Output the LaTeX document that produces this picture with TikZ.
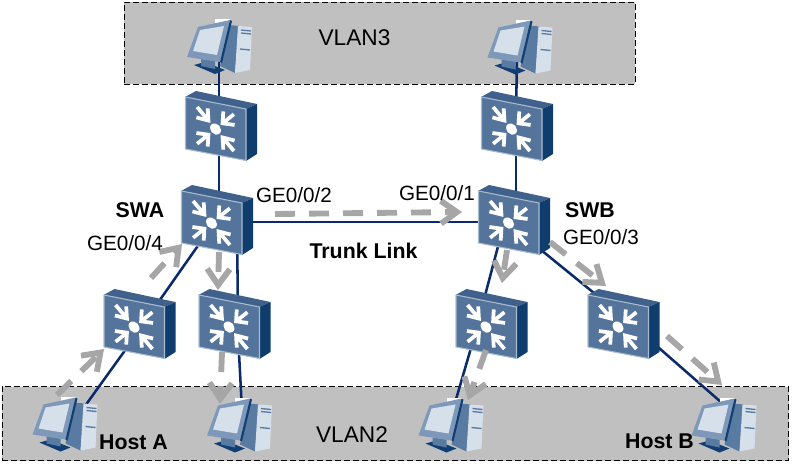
\documentclass[tikz,border=0pt]{standalone}
\usepackage{fontspec}
\setmainfont{Liberation Sans}
\usepackage{tikz}
\usetikzlibrary{calc, arrows.meta, backgrounds}
\definecolor{panelgray}{HTML}{C0C0C0}
\definecolor{linknavy}{HTML}{0B2A6B}
\definecolor{flowgray}{HTML}{A6A6A6}
\definecolor{swfront}{HTML}{54749B}
\definecolor{swtop}{HTML}{3F618C}
\definecolor{swside}{HTML}{0F3E6E}
\definecolor{swedge}{HTML}{A9BCCD}
\definecolor{pcbezel}{HTML}{7D98B8}
\definecolor{pcscreen}{HTML}{D6E0EA}
\definecolor{pcside}{HTML}{5A7BA1}
\definecolor{pcdark}{HTML}{123F73}
\tikzset{
  pics/switch/.style={code={
    \node[inner sep=0pt, minimum width=54pt, minimum height=52.5pt] (-box) at (0,0) {};
    \begin{scope}[shift={(-36,-35)}]
      \fill[swtop] (0,6) -- (11,0) -- (72,13) -- (61,18) -- cycle;
      \fill[swside] (61,18) -- (72,13) -- (72,63) -- (61,70) -- cycle;
      \filldraw[fill=swfront, draw=swedge, line width=.8pt, line join=round] (0.5,6) -- (61,18) -- (61,69.5) -- (0.5,58) -- cycle;
      \begin{scope}[shift={(30.5,38)}, yslant=-0.197]
        \fill[white] (0,0) circle (5.5);
        \foreach \a in {45,135,225,315} {
          \draw[white, line width=2.8pt, rotate=\a] (19,8) -- (10,0) -- (19,-8) (10,0) -- (26,0);
        }
      \end{scope}
    \end{scope}
  }},
  pics/pc/.style={code={
    \node[inner sep=0pt, minimum width=48.75pt, minimum height=41.25pt] (-box) at (0,0) {};
    \begin{scope}[shift={(-32.5,-27.5)}]
      \fill[white] (28,0) rectangle (43,4);
      \fill[pcside] (42,6) -- (52,7) -- (48,54) -- (33,47) -- cycle;
      \fill[pcscreen] (51,7) -- (65,8) -- (63,51) -- (48,54) -- cycle;
      \draw[pcside, line width=1pt] (54,11) -- (64,12) (54,14) -- (64,15) (53,30) -- (63,31);
      \fill[pcdark] (7,46) -- (18,43) -- (38,51) -- (28,55) -- cycle;
      \fill[pcside] (14,40) -- (28,42) -- (28,50) -- (14,47) -- cycle;
      \fill[pcbezel] (0,38) -- (11,8) -- (43,1) -- (33,43) -- cycle;
      \fill[pcdark] (43,1) -- (45,2) -- (35,44) -- (33,43) -- cycle;
      \fill[pcscreen] (6,32) -- (13,11) -- (37,7) -- (30,36) -- cycle;
    \end{scope}
  }}
}
\tikzstyle{panel}=[%
      rectangle, draw=black, fill=panelgray, line width=.75pt, dash pattern=on 4.5pt off 2.25pt,
      inner sep=0pt, anchor=north west
]
\tikzstyle{link}=[draw=linknavy, line width=1.9pt]
\tikzstyle{flow}=[%
      draw=flowgray, line width=4.4pt, dash pattern=on 15pt off 10.5pt,
      -{Straight Barb[length=12pt, width=17pt]}
]
\tikzstyle{lbl}=[font=\fontsize{15.5pt}{17pt}\selectfont, inner sep=0pt]
\tikzstyle{vlbl}=[font=\fontsize{17pt}{19pt}\selectfont, inner sep=0pt]
\tikzstyle{blbl}=[font=\fontsize{16pt}{18pt}\selectfont\bfseries, inner sep=0pt]
\begin{document}
\begin{tikzpicture}[x=.75pt, y=-.75pt]
    \useasboundingbox (0,0) rectangle (793,465);

    \pic (swTopL) at (221,126) {switch};
    \pic (swTopR) at (517,126) {switch};
    \pic (swa) at (217,220) {switch};
    \pic (swb) at (514,220) {switch};
    \pic (swC) at (139.5,324) {switch};
    \pic (swD) at (234.5,324) {switch};
    \pic (swE) at (491.5,324) {switch};
    \pic (swF) at (623.5,324) {switch};

    \pic (pcTopL) at (219.5,46.5) {pc};
    \pic (pcTopR) at (520,47) {pc};
    \pic (hostA) at (65,424) {pc};
    \pic (pcD) at (239.5,425) {pc};
    \pic (pcE) at (451,425) {pc};
    \pic (hostB) at (724,425) {pc};

    \begin{scope}[on background layer]
      \node[panel, minimum width=383.25pt, minimum height=61.5pt] (vlanTop) at (123.5,1.5) {};
      \node[panel, minimum width=590pt, minimum height=55.5pt] (vlanBottom) at (1.5,386) {};
      \path[link] ($(pcTopL-box)+(-0.5,0)$) edge ($(swTopL-box)+(-2,0)$)
            ($(swTopL-box)+(-2,0)$) edge ($(swa-box)+(2,0)$)
            ($(pcTopR-box)+(-3,0)$) edge ($(swTopR-box)+(-1,0)$)
            ($(swTopR-box)+(-1,0)$) edge ($(swb-box)+(2,0)$)
            ($(swa-box)+(0,2)$) edge ($(swb-box)+(0,2)$)
            ($(swa-box)+(-1,0)$) edge ($(swC-box)+(3.5,0)$)
            ($(swC-box)+(4.5,0)$) edge ($(hostA-box)+(20,-18)$)
            ($(swa-box)+(20,0)$) edge ($(swD-box)+(3.5,0)$)
            ($(swD-box)+(3,0)$) edge ($(pcD-box)+(2,-24)$)
            ($(swb-box)+(-9,0)$) edge ($(swE-box)+(-14,0)$)
            ($(swE-box)+(-13.5,0)$) edge ($(pcE-box)+(-1,-5)$)
            ($(swb-box)+(0,8)$) edge ($(swF-box)+(0,-7)$)
            ($(swF-box)+(0,-7)$) edge ($(hostB-box)+(-2,-22)$)
      ;
    \end{scope}

    \coordinate (aStart) at (57,395);    \coordinate (aEnd) at (104,349);
    \coordinate (bStart) at (151,278);   \coordinate (bEnd) at (182,244);
    \coordinate (cStart) at (219,252);   \coordinate (cEnd) at (218,290);
    \coordinate (dStart) at (222,352);   \coordinate (dEnd) at (220,404);
    \coordinate (eStart) at (275,214);   \coordinate (eEnd) at (462,212);
    \coordinate (fStart) at (507,250);   \coordinate (fEnd) at (502,283);
    \coordinate (gStart) at (486,350);   \coordinate (gEnd) at (468,400);
    \coordinate (hStart) at (550,242);   \coordinate (hEnd) at (606,286);
    \coordinate (iStart) at (667,336);   \coordinate (iEnd) at (722,385);
    \foreach \f in {a,b,c,d,e,f,g,h,i}
      \draw[flow] (\f Start) -- (\f End);

    \node[vlbl] (vlan3) at (354.5,38) {VLAN3};
    \node[vlbl] (vlan2) at (352,435) {VLAN2};
    \node[blbl] (swaText) at (140,210) {SWA};
    \node[blbl] (swbText) at (590,210) {SWB};
    \node[lbl] (ge4) at (125,243) {GE0/0/4};
    \node[lbl] (ge2) at (294,195) {GE0/0/2};
    \node[lbl] (ge1) at (437,193) {GE0/0/1};
    \node[lbl] (ge3) at (601,237) {GE0/0/3};
    \node[blbl] (trunk) at (363.5,251) {Trunk Link};
    \node[blbl] (hostAText) at (133.5,442) {Host A};
    \node[blbl] (hostBText) at (659.5,441) {Host B};
\end{tikzpicture}
\end{document}
